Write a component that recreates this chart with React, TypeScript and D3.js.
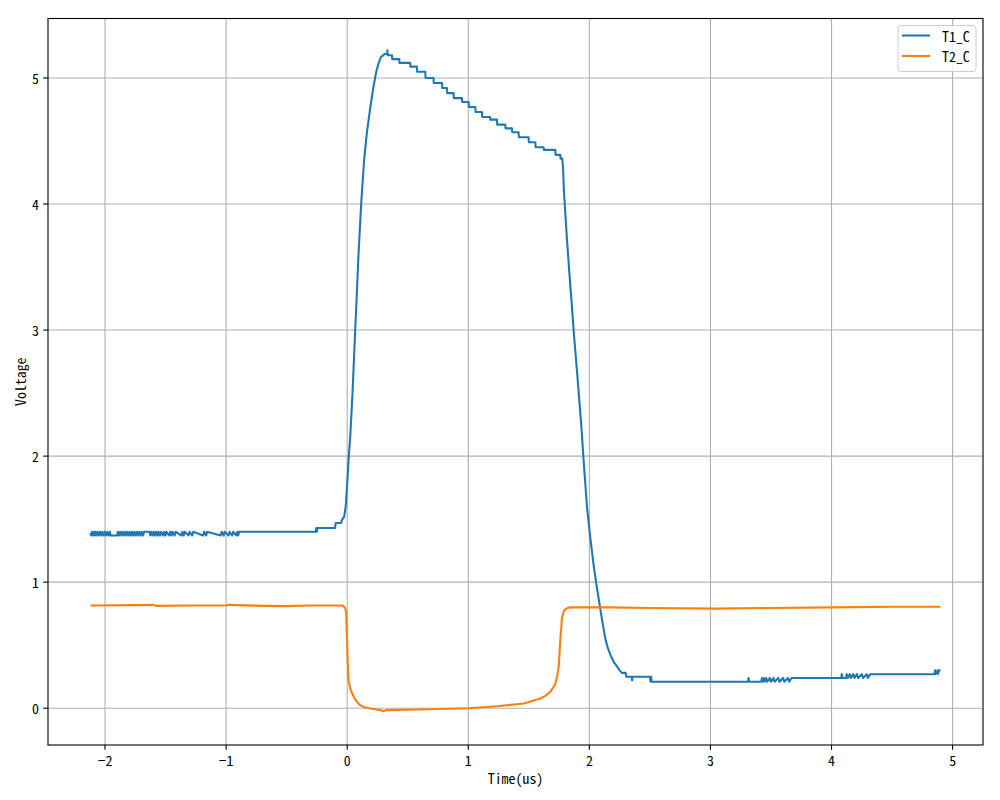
import React from "react";
import * as d3 from "d3";

type Pt = [number, number];

const seriesNames = ["T1_C", "T2_C"];
const seriesColors = ["#1f77b4", "#ff7f0e"];
const xTicks = [-2, -1, 0, 1, 2, 3, 4, 5];
const yTicks = [0, 1, 2, 3, 4, 5];
const xDomain: Pt = [-2.471, 5.251];
const yDomain: Pt = [-0.292, 5.472];

// T1_C : baseline with ADC noise
const t1Baseline: Pt[] = [
  [-2.12, 1.39], [-2.115, 1.37], [-2.108, 1.4], [-2.1, 1.37], [-2.092, 1.4], [-2.085, 1.37], [-2.078, 1.4],
  [-2.07, 1.37], [-2.062, 1.4], [-2.05, 1.37], [-2.042, 1.4], [-2.03, 1.37], [-2.022, 1.4], [-2.01, 1.37],
  [-2.0, 1.4], [-1.99, 1.37], [-1.98, 1.4], [-1.97, 1.37], [-1.96, 1.4], [-1.955, 1.37], [-1.9, 1.37],
  [-1.895, 1.4], [-1.885, 1.37], [-1.877, 1.4], [-1.865, 1.37], [-1.857, 1.4], [-1.845, 1.37], [-1.837, 1.4],
  [-1.825, 1.37], [-1.817, 1.4], [-1.805, 1.37], [-1.797, 1.4], [-1.785, 1.37], [-1.777, 1.4], [-1.765, 1.37],
  [-1.757, 1.4], [-1.745, 1.37], [-1.737, 1.4], [-1.725, 1.37], [-1.717, 1.4], [-1.705, 1.37], [-1.697, 1.4],
  [-1.685, 1.37], [-1.677, 1.4], [-1.635, 1.4], [-1.625, 1.37], [-1.617, 1.4], [-1.605, 1.37], [-1.597, 1.4],
  [-1.585, 1.37], [-1.577, 1.4], [-1.565, 1.37], [-1.557, 1.4], [-1.545, 1.37], [-1.537, 1.4], [-1.52, 1.37],
  [-1.512, 1.4], [-1.5, 1.37], [-1.492, 1.4], [-1.47, 1.37], [-1.462, 1.4], [-1.45, 1.37], [-1.442, 1.4],
  [-1.425, 1.37], [-1.417, 1.4], [-1.37, 1.37], [-1.362, 1.4], [-1.35, 1.37], [-1.342, 1.4], [-1.31, 1.37],
  [-1.302, 1.4], [-1.28, 1.37], [-1.272, 1.4], [-1.19, 1.37], [-1.182, 1.4], [-1.165, 1.37], [-1.157, 1.4],
  [-1.045, 1.37], [-1.037, 1.4], [-1.02, 1.37], [-1.012, 1.4], [-0.98, 1.37], [-0.972, 1.4], [-0.95, 1.37],
  [-0.942, 1.4], [-0.915, 1.37], [-0.907, 1.4], [-0.9, 1.37], [-0.892, 1.4],
];

// T1_C : rising edge and peak
const t1Rise: Pt[] = [
  [-0.26, 1.4], [-0.255, 1.43], [-0.25, 1.4], [-0.245, 1.43], [-0.1, 1.43], [-0.095, 1.47], [-0.05, 1.47],
  [-0.045, 1.49], [-0.025, 1.52], [-0.012, 1.6], [0.0, 1.78], [0.012, 1.98], [0.025, 2.15], [0.044, 2.5],
  [0.066, 3.0], [0.08, 3.3], [0.094, 3.61], [0.116, 4.01], [0.14, 4.35], [0.163, 4.57], [0.19, 4.76],
  [0.215, 4.92], [0.24, 5.05], [0.26, 5.12], [0.28, 5.17], [0.3, 5.18], [0.305, 5.19], [0.33, 5.19],
  [0.332, 5.22], [0.335, 5.18], [0.36, 5.18],
];

// T1_C : sloping staircase top
const t1Top: Pt[] = [
  [0.37, 5.18], [0.372, 5.15], [0.43, 5.15], [0.432, 5.12], [0.52, 5.12], [0.522, 5.09], [0.576, 5.09],
  [0.578, 5.05], [0.645, 5.05], [0.647, 5.0], [0.713, 5.0], [0.715, 4.96], [0.783, 4.96], [0.785, 4.92],
  [0.824, 4.92], [0.826, 4.88], [0.879, 4.88], [0.881, 4.84], [0.948, 4.84], [0.95, 4.81], [1.003, 4.81],
  [1.005, 4.77], [1.058, 4.77], [1.06, 4.73], [1.113, 4.73], [1.115, 4.69], [1.18, 4.69], [1.182, 4.67],
  [1.237, 4.67], [1.239, 4.63], [1.306, 4.63], [1.308, 4.6], [1.361, 4.6], [1.363, 4.57], [1.416, 4.57],
  [1.418, 4.53], [1.498, 4.53], [1.5, 4.49], [1.554, 4.49], [1.556, 4.45], [1.622, 4.45], [1.624, 4.43],
  [1.719, 4.43], [1.721, 4.39], [1.76, 4.39], [1.762, 4.36], [1.776, 4.36],
];

// T1_C : falling edge and tail
const t1Fall: Pt[] = [
  [1.782, 4.3], [1.79, 4.1], [1.8, 3.95], [1.815, 3.72], [1.835, 3.45], [1.855, 3.2], [1.87, 3.0],
  [1.885, 2.82], [1.9, 2.65], [1.917, 2.44], [1.935, 2.22], [1.953, 1.96], [1.98, 1.6], [2.008, 1.35],
  [2.036, 1.13], [2.06, 0.97], [2.085, 0.82], [2.105, 0.7], [2.132, 0.55], [2.155, 0.47], [2.18, 0.41],
  [2.2, 0.37], [2.229, 0.33], [2.25, 0.3], [2.27, 0.28], [2.3, 0.28], [2.305, 0.25],
  [2.35, 0.25], [2.353, 0.22], [2.357, 0.25], [2.5, 0.25], [2.505, 0.21], [2.51, 0.25], [2.515, 0.21],
  [3.31, 0.21], [3.315, 0.24], [3.32, 0.21], [3.42, 0.21], [3.425, 0.24], [3.43, 0.21], [3.44, 0.24],
  [3.45, 0.21], [3.46, 0.24], [3.47, 0.21], [3.49, 0.24], [3.5, 0.21], [3.52, 0.24], [3.53, 0.21],
  [3.56, 0.24], [3.57, 0.21], [3.6, 0.24], [3.61, 0.21], [3.64, 0.24], [3.65, 0.21], [3.67, 0.24],
  [4.08, 0.24], [4.085, 0.27], [4.09, 0.24], [4.12, 0.24], [4.125, 0.27], [4.135, 0.24], [4.15, 0.27],
  [4.16, 0.24], [4.18, 0.27], [4.19, 0.24], [4.21, 0.27], [4.22, 0.24], [4.25, 0.27], [4.26, 0.24],
  [4.29, 0.27], [4.3, 0.24], [4.32, 0.27], [4.85, 0.27], [4.855, 0.3], [4.86, 0.27], [4.875, 0.3],
  [4.88, 0.27], [4.885, 0.3], [4.9, 0.3],
];

// T2_C
const t2Points: Pt[] = [
  [-2.12, 0.815], [-1.75, 0.818], [-1.6, 0.82], [-1.58, 0.812], [-1.3, 0.815], [-1.0, 0.815], [-0.98, 0.82],
  [-0.7, 0.812], [-0.5, 0.81], [-0.3, 0.815], [-0.04, 0.815], [-0.03, 0.81], [-0.015, 0.79], [-0.008, 0.75],
  [0.003, 0.41], [0.011, 0.22], [0.025, 0.16], [0.039, 0.12], [0.06, 0.08], [0.08, 0.05], [0.105, 0.025],
  [0.135, 0.01], [0.2, -0.005], [0.27, -0.015], [0.3, -0.025], [0.32, -0.015], [0.5, -0.013], [0.686, -0.008],
  [1.0, 0.0], [1.24, 0.016], [1.457, 0.037], [1.595, 0.077], [1.64, 0.1], [1.678, 0.13], [1.705, 0.17],
  [1.719, 0.196], [1.735, 0.26], [1.747, 0.33], [1.76, 0.54], [1.774, 0.72], [1.793, 0.78], [1.82, 0.795],
  [1.843, 0.8], [2.17, 0.8], [2.5, 0.795], [3.03, 0.79], [3.5, 0.795], [4.0, 0.8], [4.5, 0.805], [4.9, 0.805],
];

const t1Points: Pt[] = [...t1Baseline, ...t1Rise, ...t1Top, ...t1Fall];
const allSeries = [t1Points, t2Points];

const W = 1000;
const H = 800;
const L = 48;
const R = 983;
const T = 18.5;
const B = 745;
const FONT = "'Noto Sans Mono CJK SC', 'DejaVu Sans Mono', monospace";
const FS = 13.9;
const LW = 2.08;
const THIN = 1.1;
const TICK = 4.86;

export default function App() {
  const x = d3.scaleLinear().domain(xDomain).range([L, R]);
  const y = d3.scaleLinear().domain(yDomain).range([B, T]);
  const line = d3
    .line<Pt>()
    .x((d) => x(d[0]))
    .y((d) => y(d[1]));
  const fmt = (v: number) => (v < 0 ? "\u2212" + Math.abs(v) : String(v));

  const legX = 898;
  const legY = 25.5;
  const legW = 78;
  const legH = 46;
  const rows = [35.5, 56];

  return (
    <svg
      width={W}
      height={H}
      style={{ position: "absolute", left: 0, top: 0, background: "#fff" }}
      fontFamily={FONT}
    >
      <rect x={0} y={0} width={W} height={H} fill="#fff" />
      <defs>
        <clipPath id="plotclip">
          <rect x={L} y={T} width={R - L} height={B - T} />
        </clipPath>
      </defs>
      {xTicks.map((t) => (
        <line key={"gx" + t} x1={x(t)} x2={x(t)} y1={T} y2={B} stroke="#b0b0b0" strokeWidth={THIN} />
      ))}
      {yTicks.map((t) => (
        <line key={"gy" + t} x1={L} x2={R} y1={y(t)} y2={y(t)} stroke="#b0b0b0" strokeWidth={THIN} />
      ))}
      <g clipPath="url(#plotclip)">
        {allSeries.map((s, i) => (
          <path
            key={"s" + i}
            d={line(s) || ""}
            fill="none"
            stroke={seriesColors[i]}
            strokeWidth={LW}
            strokeLinejoin="round"
            strokeLinecap="butt"
          />
        ))}
      </g>
      <rect x={L} y={T} width={R - L} height={B - T} fill="none" stroke="#000" strokeWidth={THIN} />
      {xTicks.map((t) => (
        <g key={"xt" + t}>
          <line x1={x(t)} x2={x(t)} y1={B} y2={B + TICK} stroke="#000" strokeWidth={THIN} />
          <text x={x(t)} y={B + 14.5} textAnchor="middle" dominantBaseline="central" fontSize={FS} fill="#000">
            {fmt(t)}
          </text>
        </g>
      ))}
      {yTicks.map((t) => (
        <g key={"yt" + t}>
          <line x1={L - TICK} x2={L} y1={y(t)} y2={y(t)} stroke="#000" strokeWidth={THIN} />
          <text x={L - 9} y={y(t)} textAnchor="end" dominantBaseline="central" fontSize={FS} fill="#000">
            {fmt(t)}
          </text>
        </g>
      ))}
      <text x={(L + R) / 2} y={778} textAnchor="middle" dominantBaseline="central" fontSize={FS} fill="#000">
        Time(us)
      </text>
      <text
        transform={`translate(20, ${(T + B) / 2}) rotate(-90)`}
        textAnchor="middle"
        dominantBaseline="central"
        fontSize={FS}
        fill="#000"
      >
        Voltage
      </text>
      <rect
        x={legX}
        y={legY}
        width={legW}
        height={legH}
        rx={2.8}
        fill="#fff"
        fillOpacity={0.8}
        stroke="#cccccc"
        strokeWidth={1}
      />
      {seriesNames.map((n, i) => (
        <g key={"lg" + n}>
          <line x1={902} x2={930} y1={rows[i]} y2={rows[i]} stroke={seriesColors[i]} strokeWidth={LW} />
          <text x={942} y={rows[i]} dominantBaseline="central" fontSize={FS} fill="#000">
            {n}
          </text>
        </g>
      ))}
    </svg>
  );
}
